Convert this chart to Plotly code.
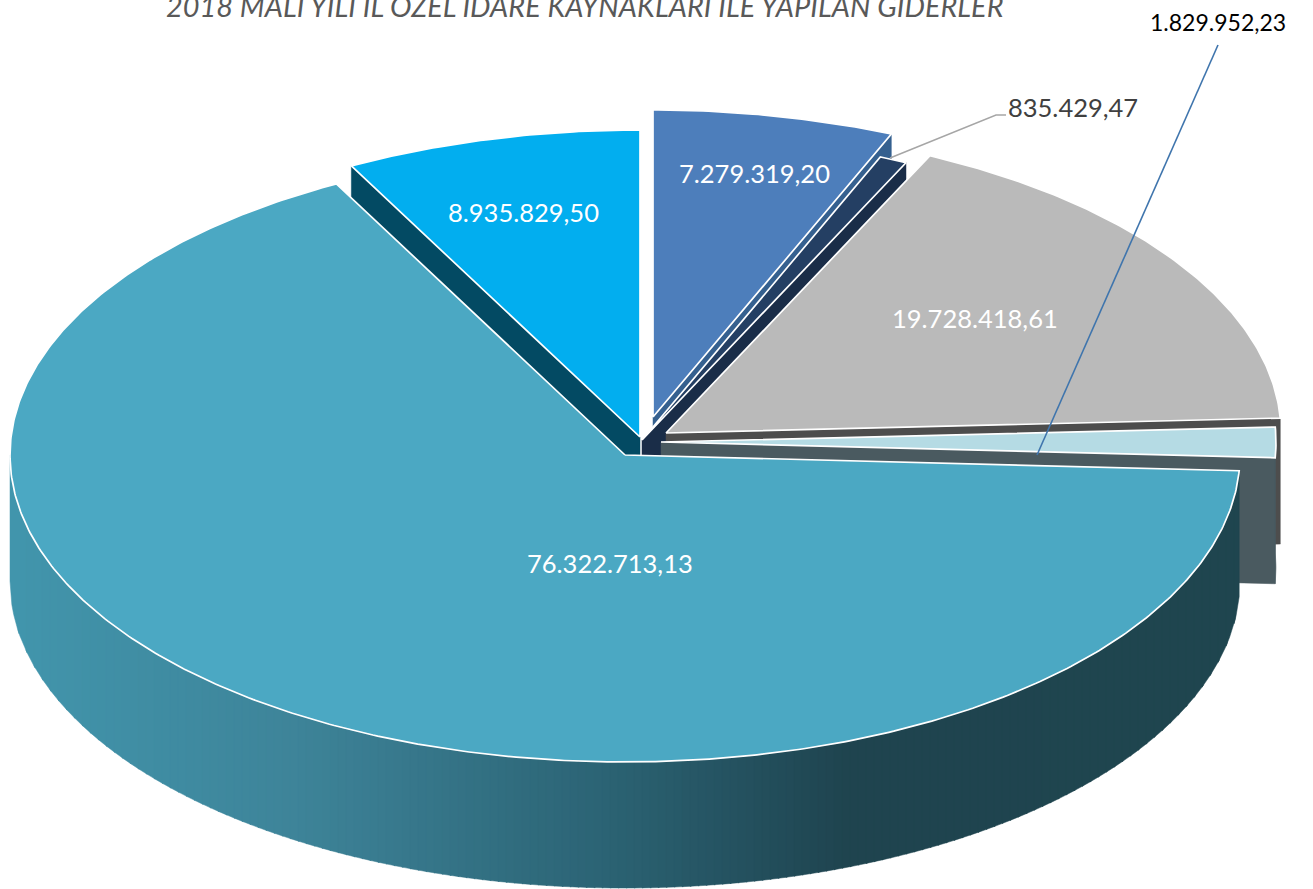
import numpy as np
import plotly.graph_objects as go

# --- data -----------------------------------------------------------------
slice_names = ["a", "b", "c", "d", "e", "f"]
slice_values = [7279319.20, 835429.47, 19728418.61, 1829952.23, 76322713.13, 8935829.50]
slice_labels = ["7.279.319,20", "835.429,47", "19.728.418,61", "1.829.952,23", "76.322.713,13", "8.935.829,50"]
title_text = "2018 MALİ YILI İL ÖZEL İDARE KAYNAKLARI İLE YAPILAN GİDERLER"

# --- geometry / style (pixel-based drawing space) -------------------------
W, H = 1313, 889
RX, RY, DEPTH = 615.0, 307.0, 126.0
centers = [(653, 417), (642, 440), (666, 433), (661, 442), (625, 455), (640, 437)]
top_cols = ["#4d7ebb", "#243f63", "#bababa", "#b5dbe4", "#4ba8c3", "#02aeef"]
wall_cols = ["#35608f", "#1a2d48", "#4d4d4d", "#4a5a60", "#1f4650", "#034a63"]
# paint back to front
paint_order = [5, 0, 1, 2, 3, 4]
label_pos = [(754, 173), (1073, 107), (975, 318), (1218, 22), (610, 563), (523, 212)]
label_cols = ["white", "#404040", "white", "black", "white", "white"]
label_sizes = [25.5, 25.5, 25.5, 23, 25.5, 25.5]

fracs = np.array(slice_values) / np.sum(slice_values)
edges = np.concatenate([[0], np.cumsum(fracs) * 360])


def pt(c, deg):
    t = np.radians(deg)
    return c[0] + RX * np.sin(t), c[1] - RY * np.cos(t)


fig = go.Figure()


def poly(x, y, fill, line="white", lw=1.0):
    fig.add_trace(go.Scatter(
        x=list(x) + [x[0]], y=list(y) + [y[0]], mode="lines", fill="toself", fillcolor=fill,
        line=dict(color=line if lw else fill, width=lw if lw else 0.5),
        hoverinfo="skip", showlegend=False))


def hex2rgb(h):
    return np.array([int(h[i:i + 2], 16) for i in (1, 3, 5)], float)


grad_x = [10, 300, 600, 850, 1240]
grad_c = ["#4296ad", "#3e8499", "#2c6475", "#1f444f", "#1f4650"]
grad_rgb = np.array([hex2rgb(c) for c in grad_c])


def teal_side(c, a0, a1):
    """vertical gradient strips of the front wall of the big slice"""
    x0, x1 = c[0] - RX, pt(c, a0)[0]
    xs = np.arange(x0, x1, 8.0)
    xs = np.append(xs, x1)
    for xa, xb in zip(xs[:-1], xs[1:]):
        xb2 = min(xb + 1.2, x1)
        xx = np.linspace(xa, xb2, 6)
        ytop = c[1] + RY * np.sqrt(np.clip(1 - ((xx - c[0]) / RX) ** 2, 0, 1))
        col = [np.interp((xa + xb) / 2, grad_x, grad_rgb[:, k]) for k in range(3)]
        colour = "rgb(%d,%d,%d)" % tuple(col)
        px = list(xx) + list(xx[::-1])
        py = list(ytop) + list((ytop + DEPTH)[::-1])
        poly(px, py, colour, lw=0)


for i in paint_order:
    c = centers[i]
    a0, a1 = edges[i], edges[i + 1]
    th = np.linspace(a0, a1, max(8, int((a1 - a0) * 2)))
    ax, ay = pt(c, th)
    if i in (0, 1, 2):  # right-hand edge of slices at the back
        ex, ey = pt(c, a1)
        poly([c[0], ex, ex, c[0]], [c[1], ey, ey + DEPTH, c[1] + DEPTH], wall_cols[i], lw=0)
    if i == 5:  # left-hand edge
        ex, ey = pt(c, a0)
        poly([c[0], ex, ex, c[0]], [c[1], ey, ey + DEPTH, c[1] + DEPTH], wall_cols[i], lw=0)
    if i == 3:
        ex, ey = pt(c, a1)
        poly([c[0], ex, ex, c[0]], [c[1], ey, ey + DEPTH, c[1] + DEPTH], wall_cols[i], lw=0)
        poly(list(ax) + list(ax[::-1]), list(ay) + list((ay + DEPTH)[::-1]), wall_cols[i], lw=0)
    if i == 4:
        teal_side(c, a0, a1)
    poly([c[0]] + list(ax), [c[1]] + list(ay), top_cols[i], lw=1.7)

# leader lines
fig.add_trace(go.Scatter(x=[890, 996, 1006], y=[158, 115, 115], mode="lines",
                         line=dict(color="#a6a6a6", width=1.5), hoverinfo="skip", showlegend=False))
fig.add_trace(go.Scatter(x=[1037, 1218], y=[455, 45], mode="lines",
                         line=dict(color="#3f75ad", width=1.6), hoverinfo="skip", showlegend=False))

# texts
for lab, p, col, sz in zip(slice_labels, label_pos, label_cols, label_sizes):
    fig.add_annotation(x=p[0], y=p[1], text=lab, showarrow=False, xref="x", yref="y",
                       font=dict(family="Lato", size=sz, color=col))
fig.add_annotation(x=585, y=5, text="<i>%s</i>" % title_text, showarrow=False, xref="x", yref="y",
                   font=dict(family="Lato", size=28.9, color="#595959"))

fig.update_layout(width=W, height=H, margin=dict(l=0, r=0, t=0, b=0), showlegend=False,
                  paper_bgcolor="white", plot_bgcolor="white",
                  xaxis=dict(range=[0, W], visible=False, fixedrange=True),
                  yaxis=dict(range=[H, 0], visible=False, fixedrange=True))

fig.write_html("out.html", config=dict(displayModeBar=False),
               post_script="document.body.style.margin='0';document.body.style.overflow='hidden';")
